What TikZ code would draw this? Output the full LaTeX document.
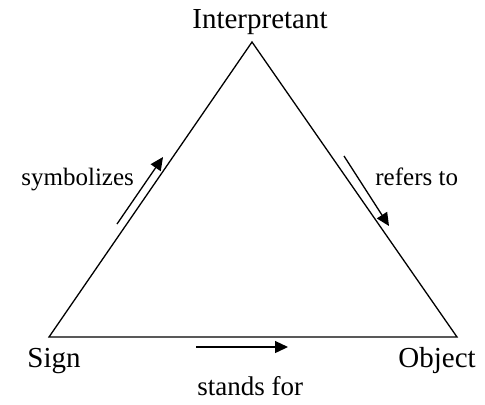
\documentclass[tikz,border=0pt]{standalone}
\usepackage{fontspec}
\setmainfont{Liberation Serif}
\usetikzlibrary{arrows.meta,positioning,calc}

\begin{document}
\begin{tikzpicture}[x=0.5pt, y=-0.5pt,
  lbl/.style={font=\fontsize{14.5}{17}\selectfont, inner sep=0pt, anchor=base west},
  rel/.style={lbl, font=\fontsize{12.5}{15}\selectfont},
  flow/.style={line width=0.65pt, -{Triangle[length=6.5pt,width=6pt]}}]
  \useasboundingbox (0,0) rectangle (485,404);
  % corners of the triad
  \coordinate (I) at (252,42);
  \coordinate (S) at (49,337);
  \coordinate (O) at (457,337);
  \draw[line width=0.65pt, line join=miter] (S) -- (I) -- (O) -- cycle;
  \node[lbl, anchor=base] (interp) at (260,28) {Interpretant};
  \node[lbl] (sign) at (27,367) {Sign};
  \node[lbl] (object) at (398,367) {Object};
  % relations
  \node[rel] (symb) at (21,185) {symbolizes};
  \node[rel] (refers) at (375,185) {refers to};
  \node[rel, font=\fontsize{13.5}{16}\selectfont] (stands) at (197,395) {stands for};
  \coordinate (symA) at (117,224);
  \coordinate (symB) at (163,157);
  \coordinate (refA) at (344,156);
  \coordinate (refB) at (389,226);
  \coordinate (stA) at (196,347);
  \coordinate (stB) at (288,347);
  \draw[flow] (symA) -- (symB);
  \draw[flow] (refA) -- (refB);
  \draw[flow] (stA) -- (stB);
\end{tikzpicture}
\end{document}
